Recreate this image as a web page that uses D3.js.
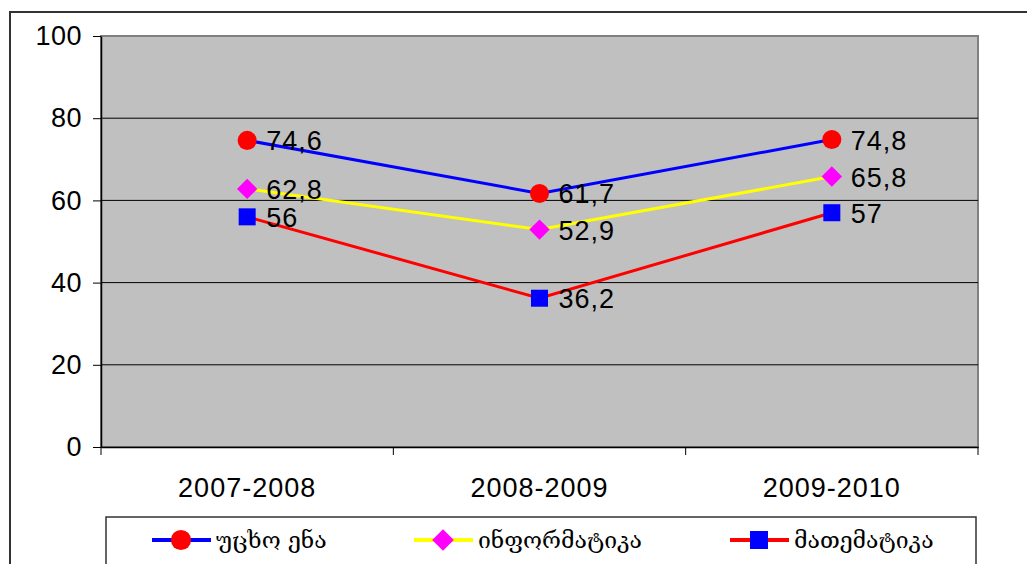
<!DOCTYPE html>
<html>
<head>
<meta charset="utf-8">
<script src="https://cdn.jsdelivr.net/npm/d3@7"></script>
<style>
  html, body { margin: 0; padding: 0; background: #fff; }
  svg { display: block; }
</style>
</head>
<body>
<svg id="chart" width="1027" height="564"></svg>
<script>
// School years on the x axis
const categories = ["2007-2008", "2008-2009", "2009-2010"];

// Average scores per subject
const foreignLanguage = [74.6, 61.7, 74.8];
const informatics = [62.8, 52.9, 65.8];
const mathematics = [56, 36.2, 57];

const seriesNames = ["უცხო ენა", "ინფორმატიკა", "მათემატიკა"];
const yTicks = [0, 20, 40, 60, 80, 100];

const series = [
  { name: seriesNames[0], values: foreignLanguage, line: "#0000ff", fill: "#ff0000", shape: "circle" },
  { name: seriesNames[1], values: informatics, line: "#ffff00", fill: "#ff00ff", shape: "diamond" },
  { name: seriesNames[2], values: mathematics, line: "#ff0000", fill: "#0000ff", shape: "square" }
];

const svg = d3.select("#chart");
const plot = { left: 101, right: 978, top: 36, bottom: 447 };
const numFont = "'Liberation Sans', Arial, sans-serif";

// Outer chart frame
svg.append("rect")
  .attr("x", 10).attr("y", 12)
  .attr("width", 1030).attr("height", 570)
  .attr("fill", "#fff").attr("stroke", "#333").attr("stroke-width", 2);

const x = d3.scaleBand().domain(categories).range([plot.left, plot.right]);
const y = d3.scaleLinear().domain([0, 100]).range([plot.bottom, plot.top]);

// Plot area background
svg.append("rect")
  .attr("x", plot.left).attr("y", plot.top)
  .attr("width", plot.right - plot.left).attr("height", plot.bottom - plot.top)
  .attr("fill", "#c0c0c0").attr("stroke", "#808080").attr("stroke-width", 2);

// Horizontal gridlines
svg.append("g").selectAll("line")
  .data(yTicks.filter(t => t > 0 && t < 100))
  .join("line")
  .attr("x1", plot.left).attr("x2", plot.right)
  .attr("y1", d => y(d)).attr("y2", d => y(d))
  .attr("stroke", "#000").attr("stroke-width", 1);

// Y axis
const yAxis = svg.append("g")
  .attr("transform", `translate(${plot.left},0)`)
  .call(d3.axisLeft(y).tickValues(yTicks).tickSize(8).tickPadding(11).tickSizeOuter(0));
yAxis.select(".domain").attr("stroke", "#000").attr("stroke-width", 1.5);
yAxis.selectAll(".tick line").attr("stroke", "#000");
yAxis.selectAll(".tick text")
  .attr("font-family", numFont)
  .attr("font-size", 27).attr("letter-spacing", 0.5).attr("fill", "#000");

// X axis with ticks at category boundaries
const xAxis = svg.append("g")
  .attr("transform", `translate(0,${plot.bottom})`)
  .call(d3.axisBottom(x).tickSize(0).tickPadding(50));
xAxis.select(".domain").attr("stroke", "#000").attr("stroke-width", 1.5);
xAxis.selectAll(".tick text")
  .attr("font-family", numFont)
  .attr("font-size", 27).attr("letter-spacing", 1).attr("fill", "#000")
  .attr("dy", "0");
const boundaries = categories.map(c => x(c)).concat([x.range()[1]]);
xAxis.append("g").selectAll("line")
  .data(boundaries)
  .join("line")
  .attr("x1", d => d).attr("x2", d => d)
  .attr("y1", 0).attr("y2", 8)
  .attr("stroke", "#000");

const cx = c => x(c) + x.bandwidth() / 2;

function drawMarker(g, shape, fill, px, py, size) {
  if (shape === "circle") {
    g.append("circle").attr("cx", px).attr("cy", py).attr("r", size * 0.56).attr("fill", fill);
  } else if (shape === "diamond") {
    const h = size * 0.6;
    g.append("path")
      .attr("d", `M${px},${py - h}L${px + h},${py}L${px},${py + h}L${px - h},${py}Z`)
      .attr("fill", fill);
  } else {
    const h = size * 0.5;
    g.append("rect").attr("x", px - h).attr("y", py - h)
      .attr("width", 2 * h).attr("height", 2 * h).attr("fill", fill);
  }
}

const line = d3.line().x((d, i) => cx(categories[i])).y(d => y(d));
const fmt = v => String(v).replace(".", ",");

series.forEach(s => {
  const g = svg.append("g");
  g.append("path")
    .datum(s.values)
    .attr("d", line)
    .attr("fill", "none")
    .attr("stroke", s.line)
    .attr("stroke-width", 3);
  s.values.forEach((v, i) => {
    drawMarker(g, s.shape, s.fill, cx(categories[i]), y(v), 17);
    g.append("text")
      .attr("x", cx(categories[i]) + 19)
      .attr("y", y(v) + 10)
      .attr("font-family", numFont)
      .attr("font-size", 27)
      .attr("letter-spacing", 1)
      .attr("fill", "#000")
      .text(fmt(v));
  });
});

// Legend
const legend = svg.append("g");
legend.append("rect")
  .attr("x", 106).attr("y", 517)
  .attr("width", 870).attr("height", 60)
  .attr("fill", "#fff").attr("stroke", "#333").attr("stroke-width", 1.5);

const legendX = [152, 414, 730];
series.forEach((s, i) => {
  const lx = legendX[i];
  const ly = 540;
  legend.append("line")
    .attr("x1", lx).attr("x2", lx + 59)
    .attr("y1", ly).attr("y2", ly)
    .attr("stroke", s.line).attr("stroke-width", 4);
  drawMarker(legend, s.shape, s.fill, lx + 29, ly, 18);
  legend.append("text")
    .attr("x", lx + 64).attr("y", ly + 8)
    .attr("font-family", "'DejaVu Serif', 'DejaVu Sans', serif")
    .attr("font-size", 23)
    .attr("fill", "#000")
    .text(s.name);
});
</script>
</body>
</html>
